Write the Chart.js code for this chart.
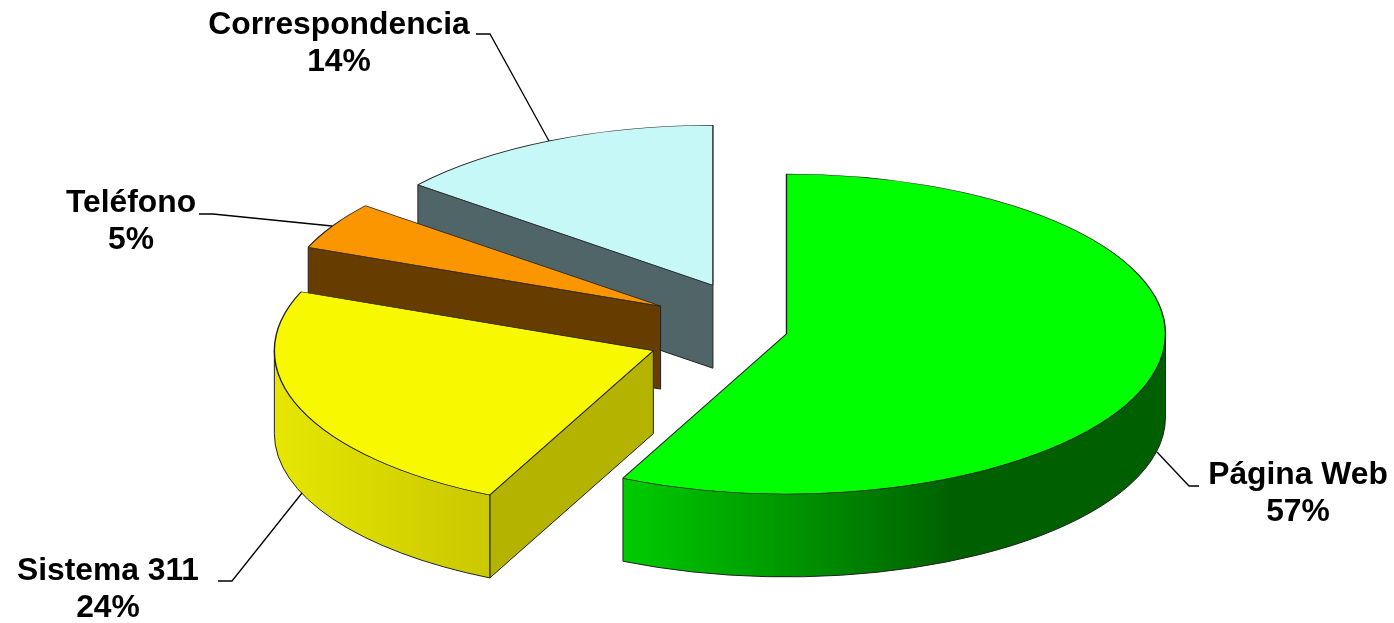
<!DOCTYPE html>
<html>
<head>
<meta charset="utf-8">
<title>Canales</title>
<script src="https://cdn.jsdelivr.net/npm/chart.js@4"></script>
<style>
html, body { margin: 0; padding: 0; background: #fff; }
#wrap { width: 1394px; height: 623px; }
</style>
</head>
<body>
<div id="wrap"><canvas id="pie" width="1394" height="623"></canvas></div>
<script>
// data
const categories = ["Página Web", "Sistema 311", "Teléfono", "Correspondencia"];
const values = [57.1, 23.9, 4.8, 14.2];

// styles, one entry per slice
const topColors = ["#00ff00", "#f8f800", "#fb9600", "#c6f8f8"];
const faceColors = ["#00a000", "#b4b400", "#663c00", "#506568"];
const wallStops = [
  [[0, "#00cc00"], [0.61, "#006000"], [1, "#006000"]],
  [[0, "#e6e600"], [1, "#cac800"]],
  [[0, "#663c00"], [1, "#663c00"]],
  [[0, "#506568"], [1, "#506568"]]
];
const explode = [21, 121, 122, 123];   // how far each slice is pulled out
const drawOrder = [3, 2, 1, 0];        // back to front

// the fake 3d view
const centerX = 766, centerY = 332, tilt = 0.422, depth = 83, radius = 379;

// label text anchor and leader line, per slice
const labelPos = [[1298, 475], [108, 571], [131, 203], [339, 25]];
const leaders = [
  [[1157, 452], [1189, 486], [1199, 486]],
  [[302, 493], [232, 581], [218, 581]],
  [[332, 226], [213, 214], [199, 214]],
  [[549, 141], [490, 34], [476, 34]]
];

function px(arc, i, angle) {
  return centerX + shiftOf(arc, i, Math.cos) + radius * Math.cos(angle);
}
function py(arc, i, angle) {
  return centerY + (shiftOf(arc, i, Math.sin) + radius * Math.sin(angle)) * tilt;
}
function shiftOf(arc, i, fn) {
  return fn((arc.startAngle + arc.endAngle) / 2) * explode[i];
}

function drawFace(ctx, arc, i, angle) {
  const ax = centerX + shiftOf(arc, i, Math.cos), ay = centerY + shiftOf(arc, i, Math.sin) * tilt;
  const ex = px(arc, i, angle), ey = py(arc, i, angle);
  ctx.beginPath();
  ctx.moveTo(ax, ay);
  ctx.lineTo(ex, ey);
  ctx.lineTo(ex, ey + depth);
  ctx.lineTo(ax, ay + depth);
  ctx.closePath();
  ctx.fillStyle = faceColors[i];
  ctx.fill();
  ctx.strokeStyle = "#222";
  ctx.lineWidth = 1;
  ctx.stroke();
}

function drawWall(ctx, arc, i) {
  const from = Math.max(arc.startAngle, 0), to = Math.min(arc.endAngle, Math.PI);
  if (to <= from) return;
  const x0 = px(arc, i, to), x1 = px(arc, i, from);
  const cx = centerX + shiftOf(arc, i, Math.cos), cy = centerY + shiftOf(arc, i, Math.sin) * tilt;
  const g = ctx.createLinearGradient(x0, 0, x1, 0);
  wallStops[i].forEach(s => g.addColorStop(s[0], s[1]));
  ctx.save();
  ctx.beginPath();
  ctx.ellipse(cx, cy, radius, radius * tilt, 0, from, to);
  ctx.ellipse(cx, cy + depth, radius, radius * tilt, 0, to, from, true);
  ctx.closePath();
  ctx.fillStyle = g;
  ctx.fill();
  ctx.strokeStyle = "#222";
  ctx.lineWidth = 1;
  ctx.stroke();
  ctx.restore();
}

const pie3d = {
  id: "pie3d",
  beforeDatasetDraw(chart, args) {
    const ctx = chart.ctx;
    const arcs = args.meta.data;
    drawOrder.forEach(i => {
      const arc = arcs[i];
      // faces are only seen when they turn towards the viewer
      if (Math.cos(arc.startAngle) < -0.001) drawFace(ctx, arc, i, arc.startAngle);
      if (Math.cos(arc.endAngle) > 0.001) drawFace(ctx, arc, i, arc.endAngle);
      drawWall(ctx, arc, i);
      ctx.save();
      ctx.translate(centerX + shiftOf(arc, i, Math.cos), centerY + shiftOf(arc, i, Math.sin) * tilt);
      ctx.scale(1, tilt);
      ctx.translate(-arc.x, -arc.y);
      arc.draw(ctx);
      ctx.restore();
    });
    return false;
  },
  afterDraw(chart) {
    const ctx = chart.ctx;
    ctx.save();
    ctx.strokeStyle = "#000";
    ctx.lineWidth = 1.3;
    leaders.forEach(l => {
      ctx.beginPath();
      l.forEach((p, n) => n ? ctx.lineTo(p[0], p[1]) : ctx.moveTo(p[0], p[1]));
      ctx.stroke();
    });
    ctx.fillStyle = "#000";
    ctx.font = "bold 31.8px 'Liberation Sans'";
    ctx.textAlign = "center";
    ctx.textBaseline = "middle";
    categories.forEach((c, i) => {
      ctx.fillText(c, labelPos[i][0], labelPos[i][1]);
      ctx.fillText(Math.round(values[i]) + "%", labelPos[i][0], labelPos[i][1] + 37.5);
    });
    ctx.restore();
  }
};

new Chart(document.getElementById("pie"), {
  type: "pie",
  data: {
    labels: categories,
    datasets: [{
      data: values,
      backgroundColor: topColors,
      borderColor: "#222",
      borderWidth: 1.4
    }]
  },
  options: {
    responsive: false,
    animation: false,
    radius: radius,
    plugins: { legend: { display: false }, tooltip: { enabled: false } }
  },
  plugins: [pie3d]
});
</script>
</body>
</html>
